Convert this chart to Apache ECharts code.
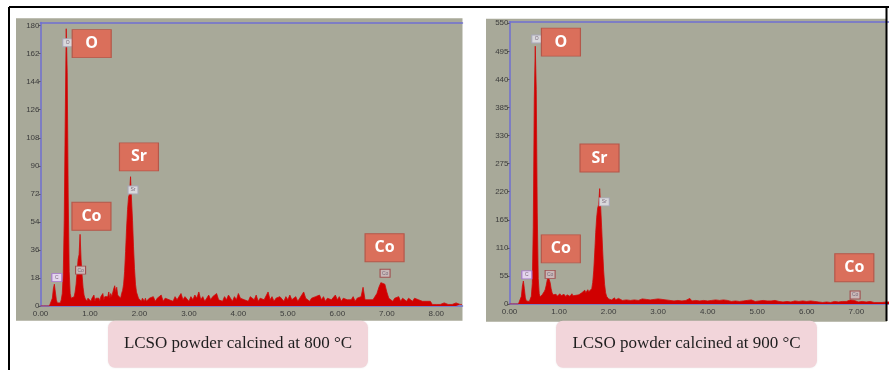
<!DOCTYPE html>
<html>
<head>
<meta charset="utf-8">
<script src="https://cdn.jsdelivr.net/npm/echarts@6/dist/echarts.min.js"></script>
<style>
html,body{margin:0;padding:0;background:#ffffff;}
#chart{width:889px;height:370px;}
</style>
</head>
<body>
<div id="chart"></div>
<script>
// ---------- DATA ----------
// Channel layout: fine channels 0.00-2.20 keV (step 0.02), coarse channels 2.24-8.52 keV (step 0.04)
const fineStart = 0.00, fineStep = 0.02;
const coarseStart = 2.24, coarseStep = 0.04;

// Left spectrum (800 °C), counts
const leftFineCounts = [
  0,0,0,0,0,0,0,0,0,0,
  0,1,5,11,14,9,4,2,2,3,
  2,4,8,20,55,120,178,150,70,22,
  8,5,4,5,6,9,14,22,30,33,
  46,30,20,12,7,5,6,3,5,4,
  6,3,5,4,7,3,5,4,6,5,
  3,6,5,8,4,6,5,7,6,9,
  5,8,6,7,11,13,9,12,7,6,
  8,5,8,10,14,22,35,50,62,70,
  72,83,68,55,38,24,14,9,7,5,
  6,4,3,5,4,3,5,3,4,3,5
];
const leftCoarseCounts = [
  4,6,3,5,4,7,3,5,6,4,
  5,3,6,4,5,8,4,6,5,3,
  6,4,7,5,9,4,6,3,5,7,
  4,6,5,8,4,5,3,6,4,7,
  5,3,6,4,8,5,6,4,5,3,
  6,5,4,7,3,5,6,4,5,9,
  4,6,3,5,4,6,5,3,6,4,
  7,4,5,6,3,5,4,9,5,6,
  3,5,4,6,5,7,4,6,3,5,
  6,4,5,7,4,6,3,5,6,4,
  5,4,6,3,5,4,6,12,4,5,
  4,5,4,5,8,12,15,16,14,9,
  5,4,3,5,4,6,3,5,4,3,
  5,4,3,5,6,4,5,3,4,3,
  2,3,1,2,1,2,1,1,2,1,
  1,2,1,1,2,1,1,1
];

// Right spectrum (900 °C), counts
const rightFineCounts = [
  0,0,0,0,0,0,0,0,0,0,
  0,3,15,35,45,30,12,6,5,6,
  5,8,15,40,150,400,505,420,180,50,
  20,14,15,18,20,24,28,36,46,54,
  56,42,30,22,18,20,16,19,15,18,
  17,20,16,18,15,19,17,14,18,16,
  19,15,17,20,16,18,15,17,19,16,
  18,20,17,22,19,24,27,22,25,28,
  24,26,24,30,42,65,100,140,170,188,
  195,226,190,150,105,65,38,22,15,12,
  10,9,11,8,10,9,12,8,10,9,11
];
const rightCoarseCounts = [
  9,7,10,8,11,7,9,8,10,7,
  8,10,7,9,12,8,7,9,8,10,
  7,9,6,8,10,7,8,6,9,7,
  8,6,9,7,8,11,6,8,7,9,
  6,8,7,9,6,8,7,5,8,6,
  7,5,8,6,7,9,5,7,6,8,
  5,7,6,4,7,5,8,6,5,7,
  6,4,7,5,6,4,6,5,7,4,
  5,6,4,6,5,7,4,5,6,4,
  5,4,6,3,5,4,6,4,5,3,
  4,5,3,5,4,6,3,4,5,3,
  4,3,5,4,5,7,8,9,7,5,
  4,3,5,3,4,3,5,4,3,4,
  3,4,3,5,4,3,4,3,3,4,
  3,2,3,2,3,2,2,3,2,2,
  2,2,3,2,2,2,1,2
];

// Axis settings (tick values); the right panel is cut off by the picture edge
const leftEnergyMax = 8.53, rightEnergyMax = 7.66, energyInterval = 1;
const leftCountMax = 182, leftCountInterval = 18;
const rightCountMax = 553, rightCountInterval = 55;

// Element tags: [label, keV, counts]
const leftTags  = [['O',1.035,168.4],['Sr',1.99,95.7],['Co',1.03,57.6],['Co',6.955,37.4]];
const rightTags = [['O',1.038,513],['Sr',1.817,286],['Co',1.036,108],['Co',6.96,71]];
// Small peak markers from the EDS software: [label, keV, counts]
const leftMarks  = [['C',0.33,18.2],['O',0.55,169],['Co',0.81,23],['Sr',1.87,74.5],['Co',6.965,21]];
const rightMarks = [['C',0.35,57],['O',0.55,519],['Co',0.82,58],['Sr',1.914,200],['Co',6.976,17.6]];

const captions = ['LCSO powder calcined at 800 °C', 'LCSO powder calcined at 900 °C'];

// ---------- BUILD ----------
function spectrum(fine, coarse) {
  const pts = [];
  fine.forEach((c, i) => pts.push([+(fineStart + i * fineStep).toFixed(2), c]));
  coarse.forEach((c, i) => pts.push([+(coarseStart + i * coarseStep).toFixed(2), c]));
  return pts;
}

const AXIS_BLUE = '#6f6fd2';
const PANEL_GRAY = '#a8a999';
const TAG_FILL = '#da6f5b';
const LABEL_COLOR = '#3c3c3c';

function xAxes(gridIndex, max) {
  return [
    {
      type: 'value', gridIndex, min: 0, max, interval: energyInterval,
      axisLine: { show: true, onZero: false, lineStyle: { color: AXIS_BLUE, width: 1.5 } },
      axisTick: { show: false },
      splitLine: { show: false },
      axisLabel: {
        margin: 4, fontSize: 8, color: LABEL_COLOR, fontFamily: 'Liberation Sans',
        formatter: v => (Math.abs(v - Math.round(v)) < 1e-6 ? v.toFixed(2) : ''),
        showMaxLabel: false
      }
    },
    {
      type: 'value', gridIndex, position: 'top', min: 0, max,
      axisLine: { show: true, onZero: false, lineStyle: { color: AXIS_BLUE, width: 1.5 } },
      axisTick: { show: false }, axisLabel: { show: false }, splitLine: { show: false }
    }
  ];
}
function yAxis(gridIndex, max, interval) {
  return {
    type: 'value', gridIndex, min: 0, max, interval,
    axisLine: { show: true, onZero: false, lineStyle: { color: AXIS_BLUE, width: 1.5 } },
    axisTick: { show: true, length: 2, lineStyle: { color: '#555' } },
    splitLine: { show: false },
    axisLabel: {
      margin: 1, fontSize: 8, color: LABEL_COLOR, fontFamily: 'Liberation Sans',
      formatter: v => (Math.abs(v % interval) < 1e-6 ? String(v) : ''),
      showMaxLabel: false
    }
  };
}

function spectrumSeries(xi, yi, data) {
  return {
    type: 'line', xAxisIndex: xi, yAxisIndex: yi, data,
    symbol: 'none', smooth: false, z: 3,
    lineStyle: { color: '#cf0b0b', width: 0.8 },
    areaStyle: { color: '#d00000', opacity: 1 }
  };
}
function tagSeries(xi, yi, tags) {
  return {
    type: 'scatter', xAxisIndex: xi, yAxisIndex: yi, z: 6,
    symbol: 'rect', symbolSize: [39, 28],
    itemStyle: { color: TAG_FILL, borderColor: '#b4574a', borderWidth: 1, opacity: 1 },
    label: { show: true, position: 'inside', formatter: '{b}', color: '#ffffff',
             fontSize: 16, fontWeight: 'bold', fontFamily: 'Open Sans' },
    data: tags.map(t => ({ name: t[0], value: [t[1], t[2]] }))
  };
}
function markSeries(xi, yi, marks) {
  return {
    type: 'scatter', xAxisIndex: xi, yAxisIndex: yi, z: 5,
    symbol: 'rect', symbolSize: [10, 8],
    label: { show: true, position: 'inside', formatter: '{b}', color: '#7a6a7a', fontSize: 5,
             fontFamily: 'Liberation Sans' },
    data: marks.map(m => ({
      name: m[0], value: [m[1], m[2]],
      itemStyle: m[0] === 'C'
        ? { color: '#e4d6ee', borderColor: '#a676cf', borderWidth: 1, opacity: 1 }
        : (m[0] === 'Co'
          ? { color: '#c9b8b8', borderColor: '#a05050', borderWidth: 1, opacity: 1 }
          : { color: '#d8d8dc', borderColor: '#a8a8b8', borderWidth: 1, opacity: 1 })
    }))
  };
}

const option = {
  animation: false,
  backgroundColor: '#ffffff',
  grid: [
    { left: 40.5, top: 22.5, width: 422, height: 283.5, containLabel: false },
    { left: 509.5, top: 21.7, width: 379.5, height: 282.3, containLabel: false }
  ],
  xAxis: [...xAxes(0, leftEnergyMax), ...xAxes(1, rightEnergyMax)],
  yAxis: [yAxis(0, leftCountMax, leftCountInterval), yAxis(1, rightCountMax, rightCountInterval)],
  series: [
    spectrumSeries(0, 0, spectrum(leftFineCounts, leftCoarseCounts)),
    spectrumSeries(2, 1, spectrum(rightFineCounts, rightCoarseCounts)),
    markSeries(0, 0, leftMarks),
    markSeries(2, 1, rightMarks),
    tagSeries(0, 0, leftTags),
    tagSeries(2, 1, rightTags)
  ],
  graphic: [
    // gray panels
    { type: 'rect', z: -10, silent: true, shape: { x: 16, y: 18.3, width: 446.5, height: 302.4 }, style: { fill: PANEL_GRAY } },
    { type: 'rect', z: -10, silent: true, shape: { x: 486, y: 18.7, width: 401, height: 303 }, style: { fill: PANEL_GRAY } },
    // outer black frame
    { type: 'line', z: 100, silent: true, shape: { x1: 9, y1: 7, x2: 889, y2: 7 }, style: { stroke: '#000', lineWidth: 2 } },
    { type: 'line', z: 100, silent: true, shape: { x1: 9, y1: 7, x2: 9, y2: 370 }, style: { stroke: '#000', lineWidth: 2 } },
    { type: 'line', z: 100, silent: true, shape: { x1: 886.5, y1: 7, x2: 886.5, y2: 321 }, style: { stroke: '#000', lineWidth: 2 } },
    // caption boxes
    { type: 'rect', z: 50, silent: true, shape: { x: 108, y: 320.7, width: 260, height: 47, r: 7 },
      style: { fill: '#f2d5da', shadowBlur: 2, shadowColor: 'rgba(0,0,0,0.08)' } },
    { type: 'rect', z: 50, silent: true, shape: { x: 556, y: 320.7, width: 261, height: 47, r: 7 },
      style: { fill: '#f2d5da', shadowBlur: 2, shadowColor: 'rgba(0,0,0,0.08)' } },
    { type: 'text', z: 51, silent: true, x: 238, y: 344,
      style: { text: captions[0], fill: '#1e1e1e', font: '17px "Liberation Serif"', textAlign: 'center', textVerticalAlign: 'middle' } },
    { type: 'text', z: 51, silent: true, x: 686.5, y: 344,
      style: { text: captions[1], fill: '#1e1e1e', font: '17px "Liberation Serif"', textAlign: 'center', textVerticalAlign: 'middle' } }
  ]
};

const chart = echarts.init(document.getElementById('chart'), null, { renderer: 'canvas' });
chart.setOption(option);
</script>
</body>
</html>
